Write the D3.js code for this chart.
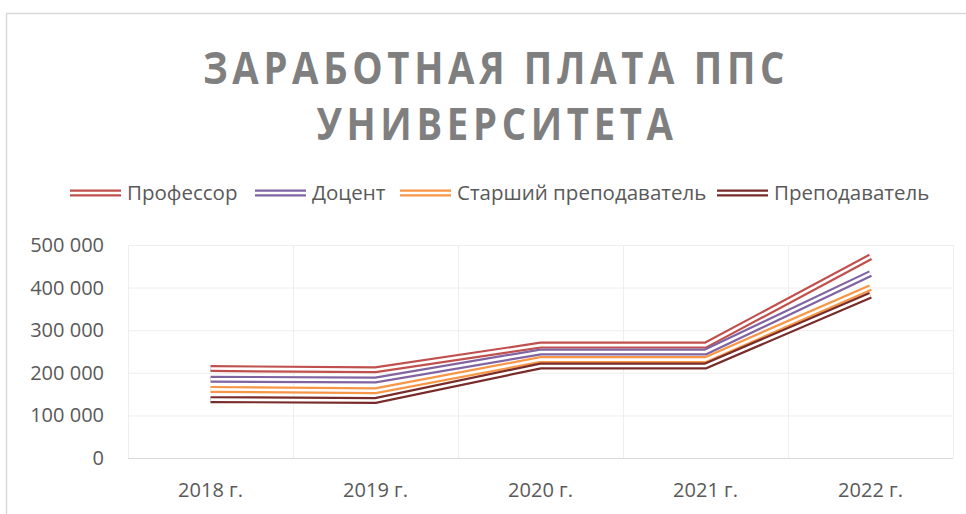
<!DOCTYPE html>
<html>
<head>
<meta charset="utf-8">
<script src="https://cdn.jsdelivr.net/npm/d3@7"></script>
<style>
  body { margin: 0; background: #fff; }
  svg { display: block; font-family: "Open Sans", "Liberation Sans", sans-serif; }
</style>
</head>
<body>
<div id="chart"></div>
<script>
// categories and values
const years = ["2018 г.", "2019 г.", "2020 г.", "2021 г.", "2022 г."];
const seriesNames = ["Профессор", "Доцент", "Старший преподаватель", "Преподаватель"];
const professor = [210000, 207000, 265000, 265000, 472000];
const docent = [185000, 183000, 249000, 249000, 433000];
const seniorLecturer = [161000, 158000, 231000, 231000, 400000];
const lecturer = [137000, 135000, 216000, 216000, 382000];
const yTicks = [0, 100000, 200000, 300000, 400000, 500000];
const colors = ["#c0504d", "#8064a2", "#f79646", "#772c2a"];

const values = [professor, docent, seniorLecturer, lecturer];
const series = seriesNames.map((name, i) => ({
  name,
  color: colors[i],
  points: years.map((y, j) => ({ year: y, value: values[i][j] }))
}));

const width = 966, height = 514;
const plot = { left: 128, right: 953, top: 245, bottom: 458 };

const svg = d3.select("#chart")
  .append("svg")
    .attr("width", width)
    .attr("height", height);

// chart area border (only top and left are visible in the picture)
svg.append("path")
  .attr("d", `M6.5,${height} V13.5 H${width}`)
  .attr("fill", "none")
  .attr("stroke", "#d9d9d9")
  .attr("stroke-width", 1.5);

const x = d3.scalePoint()
  .domain(years)
  .range([plot.left, plot.right])
  .padding(0.5);

const xBand = d3.scaleBand()
  .domain(years)
  .range([plot.left, plot.right]);

const y = d3.scaleLinear()
  .domain([0, 500000])
  .range([plot.bottom, plot.top]);

// gridlines
svg.append("g")
  .selectAll("line")
  .data(yTicks.slice(1))
  .join("line")
    .attr("x1", plot.left).attr("x2", plot.right)
    .attr("y1", d => y(d) + 0.5).attr("y2", d => y(d) + 0.5)
    .attr("stroke", "#eeeeee");

svg.append("g")
  .selectAll("line")
  .data(years.map(d => xBand(d)).concat([plot.right]))
  .join("line")
    .attr("x1", d => d + 0.5).attr("x2", d => d + 0.5)
    .attr("y1", plot.top).attr("y2", plot.bottom)
    .attr("stroke", "#eeeeee");

// x axis line
svg.append("line")
  .attr("x1", plot.left).attr("x2", plot.right)
  .attr("y1", plot.bottom + 0.5).attr("y2", plot.bottom + 0.5)
  .attr("stroke", "#d9d9d9");

// y labels
const fmt = d => d3.format(",")(d).replace(/,/g, " ");
svg.append("g")
  .selectAll("text")
  .data(yTicks)
  .join("text")
    .attr("x", 104)
    .attr("y", d => y(d) + 7)
    .attr("text-anchor", "end")
    .attr("fill", "#595959")
    .style("font-size", "20px")
    .text(fmt);

// x labels
svg.append("g")
  .selectAll("text")
  .data(years)
  .join("text")
    .attr("x", d => x(d))
    .attr("y", 497)
    .attr("text-anchor", "middle")
    .attr("fill", "#595959")
    .style("font-size", "20px")
    .text(d => d);

// lines: double-line style (coloured stroke with a white core)
const line = d3.line()
  .x(d => x(d.year))
  .y(d => y(d.value));

const lines = svg.append("g")
  .selectAll("g")
  .data(series)
  .join("g");

lines.append("path")
  .attr("fill", "none")
  .attr("stroke", d => d.color)
  .attr("stroke-width", 7)
  .attr("d", d => line(d.points));

lines.append("path")
  .attr("fill", "none")
  .attr("stroke", "#fff")
  .attr("stroke-width", 2.6)
  .attr("d", d => line(d.points));

// title (narrow bold face with wide tracking, squeezed horizontally)
const titleLines = [
  { text: "ЗАРАБОТНАЯ ПЛАТА ППС", x: 496, y: 84 },
  { text: "УНИВЕРСИТЕТА", x: 497, y: 140 }
];
svg.append("g")
  .selectAll("text")
  .data(titleLines)
  .join("text")
    .attr("transform", d => `translate(${d.x},${d.y}) scale(0.85,1)`)
    .attr("text-anchor", "middle")
    .attr("fill", "#7f7f7f")
    .style("font-size", "45px")
    .style("font-weight", "bold")
    .style("letter-spacing", "5.5px")
    .text(d => d.text);

// legend
const legendX = [70, 255, 400, 717];
const legend = svg.append("g")
  .selectAll("g")
  .data(series)
  .join("g")
    .attr("transform", (d, i) => `translate(${legendX[i]}, 193)`);

legend.append("line")
  .attr("x1", 0).attr("x2", 51)
  .attr("stroke", d => d.color)
  .attr("stroke-width", 7);

legend.append("line")
  .attr("x1", 0).attr("x2", 51)
  .attr("stroke", "#fff")
  .attr("stroke-width", 2.6);

legend.append("text")
  .attr("x", 57)
  .attr("y", 7)
  .attr("fill", "#595959")
  .style("font-size", "20.5px")
  .text(d => d.name);
</script>
</body>
</html>
